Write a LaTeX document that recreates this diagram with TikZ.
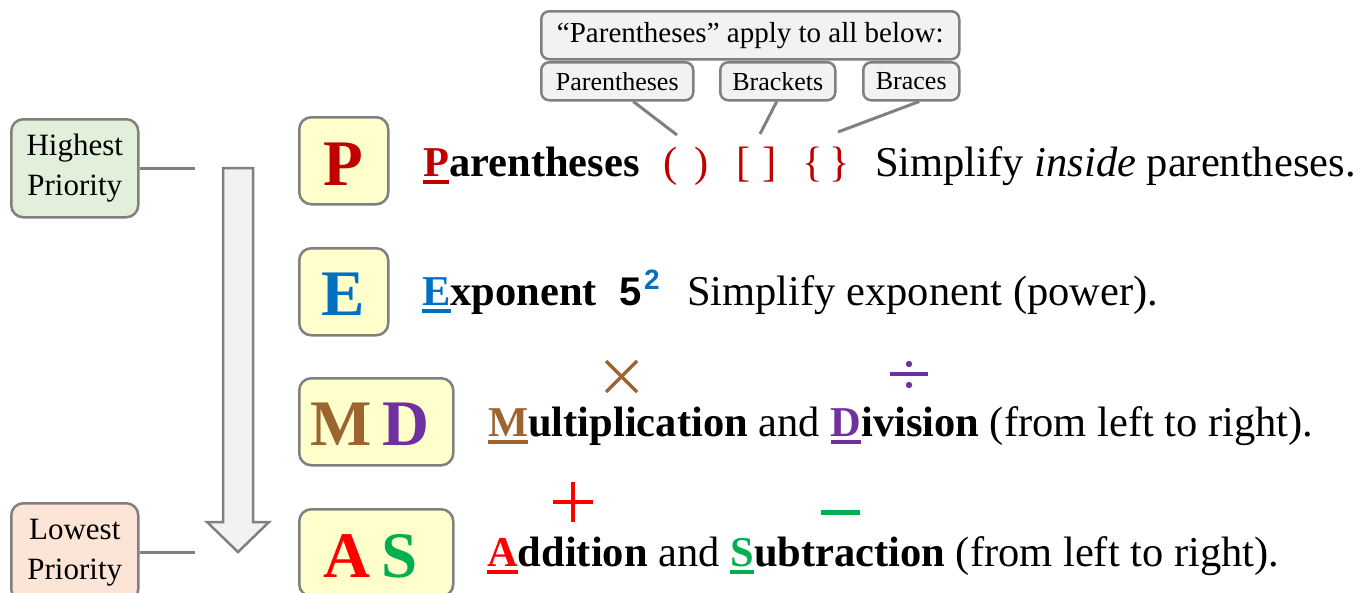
\documentclass[tikz,border=0pt]{standalone}
\usepackage{fontspec}
\setmainfont{Liberation Serif}
\newfontfamily\sansbf{Liberation Sans}[BoldFont={* Bold}]
\definecolor{bgray}{HTML}{808080}
\definecolor{lgray}{HTML}{F2F2F2}
\definecolor{ybox}{HTML}{FFFFCC}
\definecolor{gbox}{HTML}{E2EFDA}
\definecolor{obox}{HTML}{FCE4D6}
\definecolor{pred}{HTML}{C00000}
\definecolor{eblue}{HTML}{0070C0}
\definecolor{mbrown}{HTML}{9C6530}
\definecolor{dpurple}{HTML}{7030A0}
\definecolor{ared}{HTML}{FF0000}
\definecolor{sgreen}{HTML}{00B050}
\newcommand\myul[1]{\setbox0\hbox{#1}\rlap{\rule[-8pt]{\wd0}{4pt}}\box0}
\begin{document}
\begin{tikzpicture}[x=1pt,y=-1pt,
  lbl/.style={draw=bgray, line width=2.5pt, fill=lgray, rounded corners=8pt, inner sep=0pt, anchor=north west},
  prio/.style={draw=bgray, line width=2.5pt, rounded corners=12pt, inner sep=0pt, anchor=north west,
     minimum width=127pt, minimum height=98pt, align=center, font=\fontsize{31}{40}\selectfont},
  lbox/.style={draw=bgray, line width=2.5pt, fill=ybox, rounded corners=12pt, inner sep=0pt, anchor=north west, minimum height=87pt},
  bigl/.style={anchor=base, font=\fontsize{65}{65}\selectfont\bfseries},
  row/.style={anchor=base west, inner sep=0pt, font=\fontsize{42.5}{50}\selectfont},
  conn/.style={draw=bgray, line width=3pt},
]
\useasboundingbox (0,0) rectangle (1367,592);

% top labels
\node[lbl, minimum width=418pt, minimum height=48pt, font=\fontsize{29}{34}\selectfont] (apply) at (540,10) {“Parentheses” apply to all below:};
\node[lbl, minimum width=152pt, minimum height=38pt, font=\fontsize{26}{30}\selectfont] (lpar) at (540,61) {Parentheses};
\node[lbl, minimum width=115pt, minimum height=38pt, font=\fontsize{26}{30}\selectfont] (lbrk) at (719,61) {Brackets};
\node[lbl, minimum width=96pt, minimum height=38pt, font=\fontsize{26}{30}\selectfont] (lbrc) at (862,61) {Braces};

% priority boxes
\node[prio, fill=gbox] (high) at (10,118) {Highest\\Priority};
\node[prio, fill=obox] (low) at (10,502) {Lowest\\Priority};
\coordinate (hend) at (195,167);
\coordinate (lend) at (195,551);
\draw[conn] (high.east) -- (hend |- high.east);
\draw[conn] (low.east) -- (lend |- low.east);

% arrow
\draw[draw=bgray, line width=2.5pt, fill=lgray, line join=miter]
  (223,168) -- (253,168) -- (253,522) -- (269,522) -- (238,552) -- (207,522) -- (223,522) -- cycle;

% letter boxes
\node[lbox, minimum width=89pt] (boxP) at (298,116) {};
\node[lbox, minimum width=89pt] (boxE) at (298,247) {};
\node[lbox, minimum width=154pt] (boxMD) at (298,377) {};
\node[lbox, minimum width=154pt] (boxAS) at (298,508) {};

\node[bigl, text=pred] (letP) at (343,185) {P};
\node[bigl, text=eblue] (letE) at (343,315) {E};
\node[bigl, text=mbrown] (letM) at (341,445) {M};
\node[bigl, text=dpurple] (letD) at (406,445) {D};
\node[bigl, text=ared] (letA) at (347,577) {A};
\node[bigl, text=sgreen] (letS) at (400,577) {S};

% row 1
\node[row] (rowP) at (423,176) {\bfseries{\color{pred}\myul{P}}arentheses};
\node[row, anchor=base, text=pred] (paren) at (686,176) {(\hspace{17pt})};
\node[row, anchor=base, text=pred] (brack) at (757,176) {[\hspace{12pt}]};
\node[row, anchor=base, text=pred] (brace) at (826,176) {\{\hspace{7pt}\}};
\node[row] (simpP) at (875,176) {Simplify \textit{inside} parentheses.};
\coordinate (cpar) at (677,135);
\coordinate (cbrk) at (760,134);
\coordinate (cbrc) at (838,132);
\draw[conn] ([xshift=16pt]lpar.south) -- (cpar);
\draw[conn] ([xshift=-1pt]lbrk.south) -- (cbrk);
\draw[conn] ([xshift=8pt]lbrc.south) -- (cbrc);

% row 2
\node[row] (rowE) at (422,305) {\bfseries{\color{eblue}\myul{E}}xponent};
\node[row, font=\fontsize{40}{48}\sansbf\bfseries] (five) at (619,305) {5};
\node[row, font=\fontsize{28}{32}\sansbf\bfseries, text=eblue] (two) at (644,289) {2};
\node[row] (simpE) at (687,305) {Simplify exponent (power).};

% row 3
\node[row] (rowMD) at (488,436) {\textbf{{\color{mbrown}\myul{M}}ultiplication} and \textbf{{\color{dpurple}\myul{D}}ivision} (from left to right).};
\draw[mbrown, line width=3.5pt] (606,361) -- (637,392) (606,392) -- (637,361);
\draw[dpurple, line width=4pt] (890,374) -- (928,374);
\fill[dpurple] (909,364) circle (3.2pt) (909,385) circle (3.2pt);

% row 4
\node[row] (rowAS) at (487,566) {\textbf{{\color{ared}\myul{A}}ddition} and \textbf{{\color{sgreen}\myul{S}}ubtraction} (from left to right).};
\draw[ared, line width=4pt] (573,482) -- (573,522) (553,502) -- (593,502);
\draw[sgreen, line width=5pt] (821,512.5) -- (860,512.5);
\end{tikzpicture}
\end{document}
